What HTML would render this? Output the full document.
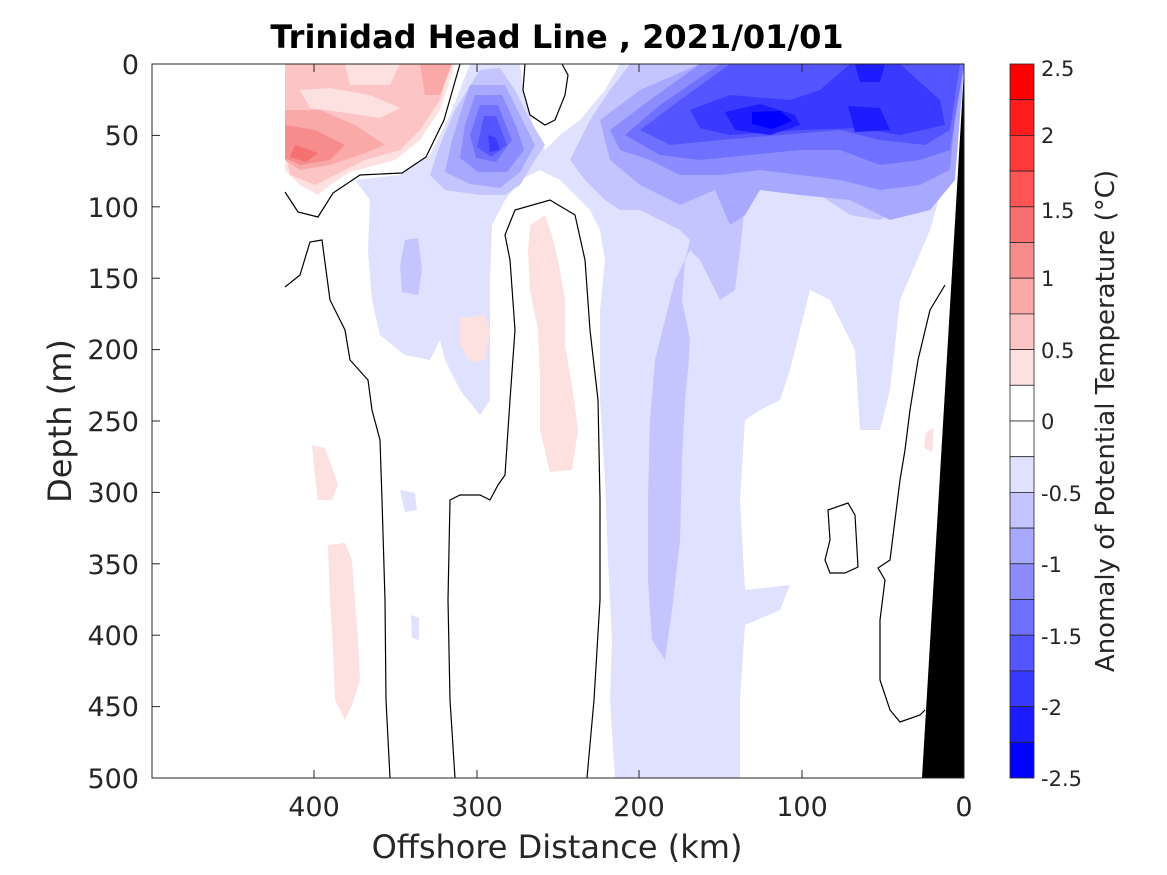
<!DOCTYPE html>
<html><head><meta charset="utf-8"><style>
html,body{margin:0;padding:0;background:#fff;}
svg{display:block;font-family:"DejaVu Sans","Liberation Sans",sans-serif;}
</style></head><body>
<svg width="1167" height="875" viewBox="0 0 1167 875" xmlns="http://www.w3.org/2000/svg">
<rect width="1167" height="875" fill="#fff"/>
<defs><clipPath id="c"><rect x="152" y="64" width="812" height="714"/></clipPath></defs>
<g clip-path="url(#c)" stroke="none">
<polygon fill="#e0e0ff" points="470,64 964,64 962,100 950,160 930,230 900,300 890,390 880,430 860,430 855,350 830,300 810,290 800,330 790,370 780,400 760,410 745,420 740,500 745,590 790,585 780,610 745,625 740,700 740,778 615,778 610,700 612,640 608,560 605,480 600,400 600,310 605,260 600,230 590,210 575,195 560,180 540,170 520,180 505,200 492,225 490,280 490,330 490,400 480,415 460,390 445,360 440,340 430,360 405,355 380,335 372,300 368,250 370,200 355,180 400,175 430,155 450,115"/>
<polygon fill="#e0e0ff" points="400,490 415,493 417,510 405,512"/>
<polygon fill="#e0e0ff" points="411,615 419,618 419,640 412,638"/>
<polygon fill="#fff" points="520,64 620,64 605,90 580,120 560,135 545,150 535,130 525,100"/>
<polygon fill="#fde0e0" points="530,225 545,215 552,235 558,260 565,300 565,345 572,385 578,430 572,470 550,472 540,430 540,380 538,330 530,290 528,250"/>
<polygon fill="#fde0e0" points="312,445 325,448 333,470 338,485 332,500 318,500 315,475"/>
<polygon fill="#fde0e0" points="328,545 345,543 352,560 355,600 358,640 360,680 352,705 345,720 335,700 333,650 330,600"/>
<polygon fill="#fde0e0" points="460,318 485,315 490,330 485,360 470,362 460,345"/>
<polygon fill="#fde0e0" points="926,432 934,428 932,452 924,448"/>
<polygon fill="#c4c4ff" points="630,64 964,64 958,140 935,175 905,205 880,220 850,215 820,195 780,185 755,180 745,205 740,250 735,290 720,300 715,290 700,260 690,250 675,280 665,320 655,360 650,420 648,500 648,580 652,640 665,660 672,610 680,540 682,460 685,400 688,370 690,340 682,300 685,260 690,240 680,230 660,220 640,210 620,210 605,200 585,180 570,160 590,120 610,90"/>
<polygon fill="#c4c4ff" points="480,70 500,68 515,90 530,120 545,145 535,160 520,185 505,195 480,195 445,190 430,175 440,145 455,110"/>
<polygon fill="#c4c4ff" points="405,240 418,238 422,270 418,295 402,292 400,265"/>
<polygon fill="#a8a8ff" points="470,85 505,85 520,115 535,145 520,172 500,188 470,184 445,172 452,140 462,108"/>
<polygon fill="#a8a8ff" points="600,120 640,90 700,64 964,64 955,180 930,210 890,220 850,200 800,195 760,190 745,215 730,225 715,190 680,205 640,185 610,160"/>
<polygon fill="#8c8cff" points="475,95 502,95 517,128 524,150 507,172 478,172 460,158 465,125"/>
<polygon fill="#8c8cff" points="610,130 650,100 700,64 960,64 950,170 920,185 880,190 840,180 800,175 760,170 720,175 680,175 650,160 620,150"/>
<polygon fill="#7070ff" points="480,105 498,105 512,140 496,162 476,158 470,135"/>
<polygon fill="#7070ff" points="625,135 660,105 720,64 964,64 950,150 920,160 880,165 840,150 800,150 750,155 700,160 660,155"/>
<polygon fill="#5555ff" points="484,116 496,116 507,145 491,157 477,147"/>
<polygon fill="#5555ff" points="640,130 680,100 730,64 960,64 950,130 925,145 880,140 840,130 780,135 720,140 670,145"/>
<polygon fill="#3939ff" points="690,110 730,95 790,100 820,90 850,64 900,64 940,100 945,125 900,135 860,128 800,130 730,135 700,128"/>
<polygon fill="#3939ff" points="488,135 496,138 500,150 490,152"/>
<polygon fill="#1c1cff" points="725,112 760,104 795,115 800,125 770,135 735,130"/>
<polygon fill="#1c1cff" points="855,64 885,64 880,82 860,82"/>
<polygon fill="#1c1cff" points="848,106 880,108 890,130 855,132"/>
<polygon fill="#0000ff" points="752,112 780,111 792,121 772,129 752,124"/>
<polygon fill="#fde0e0" points="285,64 455,64 440,110 420,140 395,160 350,172 330,185 318,195 300,185 285,170"/>
<polygon fill="#fcc4c4" points="285,64 345,64 350,85 390,85 400,64 450,64 440,100 420,130 400,150 365,160 335,175 315,185 290,175 285,150"/>
<polygon fill="#fde0e0" points="300,90 330,88 370,95 400,108 380,118 340,112 310,108"/>
<polygon fill="#faa8a8" points="285,110 320,110 355,125 385,145 360,155 330,165 300,170 285,160"/>
<polygon fill="#faa8a8" points="420,64 452,64 440,95 425,95"/>
<polygon fill="#f78c8c" points="285,125 315,130 345,145 330,160 300,165 285,158"/>
<polygon fill="#f57070" points="295,145 318,153 306,162 290,157"/>
<polygon fill="#000" points="964,70 968,70 968,778 922,778"/>
</g>
<g fill="none" stroke="#000" stroke-width="1.2" clip-path="url(#c)">
<polyline points="460,64 444,120 426,157 402,173 360,175 333,193 318,217 298,212 285,192"/>
<polyline points="525,64 523,90 530,115 545,125 555,120 565,95 568,75 562,64"/>
<polyline points="285,287 300,275 310,242 322,240 326,270 330,300 345,330 350,360 368,380 372,410 380,440 382,500 385,600 386,700 390,778"/>
<polyline points="455,778 450,700 448,600 450,500 460,495 480,495 490,500 498,485 505,475 510,400 515,330 510,260 505,235 515,210 550,200 575,215 585,260 590,330 598,400 600,500 600,600 594,700 587,778"/>
<polyline points="945,285 930,310 918,360 910,410 905,450 900,480 895,520 890,560 878,568 885,580 880,620 880,680 890,710 900,722 920,715 925,710"/>
<polygon points="828,510 848,503 855,515 858,567 845,573 830,573 825,560 830,540"/>
</g>
<rect x="152" y="64" width="812" height="714" fill="none" stroke="#262626" stroke-width="1"/>
<g stroke="#262626" stroke-width="1">
<line x1="314" y1="778" x2="314" y2="770"/><line x1="477" y1="778" x2="477" y2="770"/><line x1="639" y1="778" x2="639" y2="770"/><line x1="802" y1="778" x2="802" y2="770"/>
<line x1="314" y1="64" x2="314" y2="72"/><line x1="477" y1="64" x2="477" y2="72"/><line x1="639" y1="64" x2="639" y2="72"/><line x1="802" y1="64" x2="802" y2="72"/>
<line x1="152" y1="135.4" x2="160" y2="135.4"/><line x1="152" y1="206.8" x2="160" y2="206.8"/><line x1="152" y1="278.2" x2="160" y2="278.2"/><line x1="152" y1="349.6" x2="160" y2="349.6"/><line x1="152" y1="421" x2="160" y2="421"/><line x1="152" y1="492.4" x2="160" y2="492.4"/><line x1="152" y1="563.8" x2="160" y2="563.8"/><line x1="152" y1="635.2" x2="160" y2="635.2"/><line x1="152" y1="706.6" x2="160" y2="706.6"/>
</g>
<g fill="#262626" font-size="27" text-anchor="middle">
<text x="314" y="816">400</text><text x="477" y="816">300</text><text x="639" y="816">200</text><text x="802" y="816">100</text><text x="964" y="816">0</text>
</g>
<g fill="#262626" font-size="27" text-anchor="end">
<text x="139" y="74">0</text><text x="139" y="145">50</text><text x="139" y="217">100</text><text x="139" y="288">150</text><text x="139" y="359">200</text><text x="139" y="431">250</text><text x="139" y="502">300</text><text x="139" y="574">350</text><text x="139" y="645">400</text><text x="139" y="716">450</text><text x="139" y="788">500</text>
</g>
<text x="557" y="48" font-size="32" font-weight="bold" text-anchor="middle" fill="#000">Trinidad Head Line , 2021/01/01</text>
<text x="557" y="858" font-size="32" text-anchor="middle" fill="#262626">Offshore Distance (km)</text>
<text transform="translate(71,421) rotate(-90)" font-size="32" text-anchor="middle" fill="#262626">Depth (m)</text>
<g stroke="#262626" stroke-width="0.8">
<rect x="1010" y="64" width="24" height="35.7" fill="#ff0000"/>
<rect x="1010" y="99.7" width="24" height="35.7" fill="#ff1c1c"/>
<rect x="1010" y="135.4" width="24" height="35.7" fill="#ff3939"/>
<rect x="1010" y="171.1" width="24" height="35.7" fill="#ff5555"/>
<rect x="1010" y="206.8" width="24" height="35.7" fill="#f77070"/>
<rect x="1010" y="242.5" width="24" height="35.7" fill="#f78c8c"/>
<rect x="1010" y="278.2" width="24" height="35.7" fill="#faa8a8"/>
<rect x="1010" y="313.9" width="24" height="35.7" fill="#fcc4c4"/>
<rect x="1010" y="349.6" width="24" height="35.7" fill="#fde0e0"/>
<rect x="1010" y="385.3" width="24" height="35.7" fill="#ffffff"/>
<rect x="1010" y="421" width="24" height="35.7" fill="#ffffff"/>
<rect x="1010" y="456.7" width="24" height="35.7" fill="#e0e0ff"/>
<rect x="1010" y="492.4" width="24" height="35.7" fill="#c4c4ff"/>
<rect x="1010" y="528.1" width="24" height="35.7" fill="#a8a8ff"/>
<rect x="1010" y="563.8" width="24" height="35.7" fill="#8c8cff"/>
<rect x="1010" y="599.5" width="24" height="35.7" fill="#7070ff"/>
<rect x="1010" y="635.2" width="24" height="35.7" fill="#5555ff"/>
<rect x="1010" y="670.9" width="24" height="35.7" fill="#3939ff"/>
<rect x="1010" y="706.6" width="24" height="35.7" fill="#1c1cff"/>
<rect x="1010" y="742.3" width="24" height="35.7" fill="#0000ff"/>
</g>
<g fill="#262626" font-size="21">
<text x="1041" y="76">2.5</text><text x="1041" y="143">2</text><text x="1041" y="218">1.5</text><text x="1041" y="286">1</text><text x="1041" y="358">0.5</text><text x="1041" y="429">0</text><text x="1041" y="501">-0.5</text><text x="1041" y="572">-1</text><text x="1041" y="644">-1.5</text><text x="1041" y="715">-2</text><text x="1041" y="786">-2.5</text>
</g>
<text transform="translate(1114,421) rotate(-90)" font-size="26" text-anchor="middle" fill="#262626">Anomaly of Potential Temperature (°C)</text>
</svg>
</body></html>
